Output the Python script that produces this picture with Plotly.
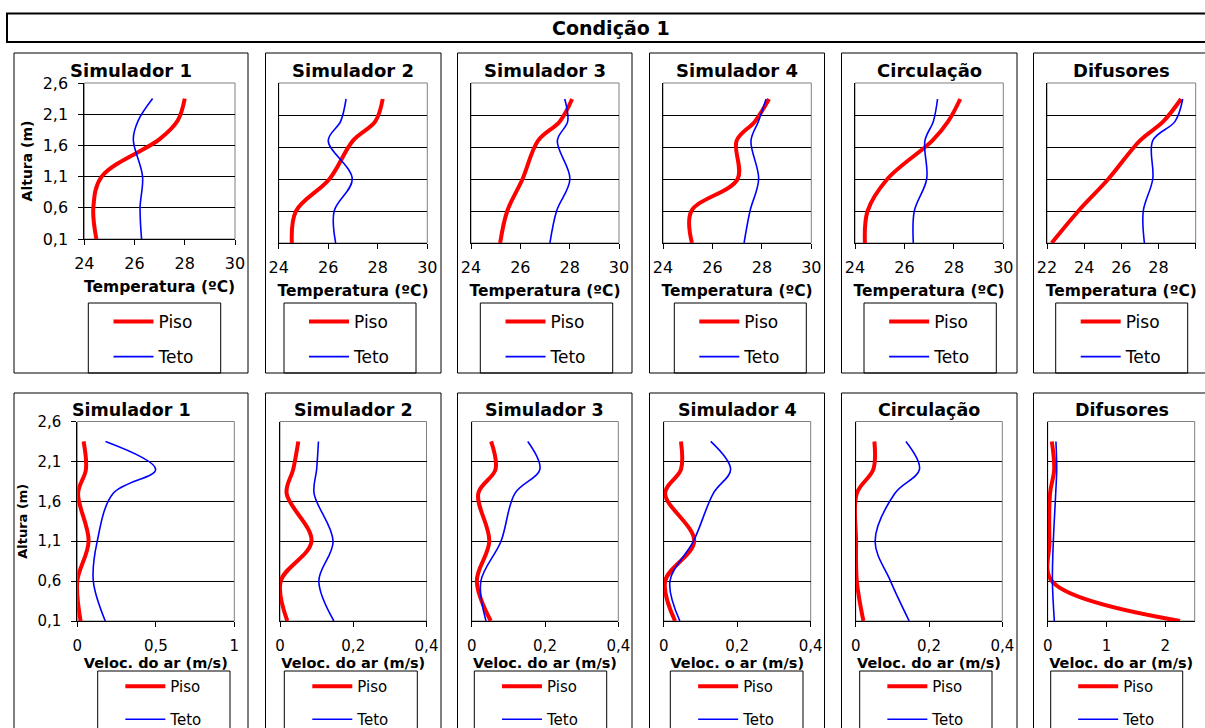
import plotly.graph_objects as go

W, H = 1205, 728

# ---------------- data ----------------
heights = [0.1, 0.6, 1.1, 1.7, 2.0, 2.35]
panel_titles = ["Simulador 1", "Simulador 2", "Simulador 3", "Simulador 4", "Circulação", "Difusores"]
series_names = ["Piso", "Teto"]
main_title = "Condição 1"

# Temperature (ºC)
temp_piso_sim1 = [24.48, 24.36, 24.69, 27.0, 27.72, 28.0]
temp_teto_sim1 = [26.28, 26.22, 26.32, 25.95, 26.15, 26.72]
temp_piso_sim2 = [24.53, 24.7, 26.05, 27.0, 27.9, 28.2]
temp_teto_sim2 = [26.3, 26.24, 26.97, 26.0, 26.5, 26.72]
temp_piso_sim3 = [25.18, 25.47, 26.09, 26.72, 27.6, 28.1]
temp_teto_sim3 = [27.2, 27.47, 28.01, 27.5, 27.92, 27.8]
temp_piso_sim4 = [25.17, 25.15, 27.02, 26.98, 27.72, 28.29]
temp_teto_sim4 = [27.28, 27.52, 27.87, 27.56, 27.86, 28.17]
temp_piso_circ = [24.4, 24.51, 25.31, 27.13, 27.77, 28.26]
temp_teto_circ = [26.36, 26.4, 26.9, 26.83, 27.17, 27.34]
temp_piso_dif = [22.25, 23.69, 25.3, 27.0, 28.26, 29.21]
temp_teto_dif = [27.24, 27.18, 27.69, 27.69, 28.89, 29.3]

# Air velocity (m/s)
vel_piso_sim1 = [0.021, 0.0, 0.072, 0.005, 0.055, 0.04]
vel_teto_sim1 = [0.178, 0.102, 0.127, 0.229, 0.499, 0.18]
vel_piso_sim2 = [0.02, 0.002, 0.086, 0.018, 0.036, 0.05]
vel_teto_sim2 = [0.147, 0.106, 0.145, 0.093, 0.1, 0.105]
vel_piso_sim3 = [0.052, 0.014, 0.048, 0.018, 0.065, 0.053]
vel_teto_sim3 = [0.039, 0.025, 0.08, 0.118, 0.186, 0.153]
vel_piso_sim4 = [0.031, 0.004, 0.083, 0.004, 0.047, 0.047]
vel_teto_sim4 = [0.044, 0.017, 0.081, 0.135, 0.182, 0.128]
vel_piso_circ = [0.021, 0.003, 0.001, 0.003, 0.048, 0.051]
vel_teto_circ = [0.146, 0.095, 0.053, 0.107, 0.174, 0.137]
vel_piso_dif = [2.25, 0.07, 0.03, 0.04, 0.11, 0.07]
vel_teto_dif = [0.113, 0.08, 0.096, 0.136, 0.153, 0.14]

y_tick_vals = [0.1, 0.6, 1.1, 1.6, 2.1, 2.6]
temp_x_ticks = [[24, 26, 28, 30]] * 5 + [[22, 24, 26, 28, 30]]
vel_x_ticks = [[0, 0.5, 1], [0, 0.2, 0.4], [0, 0.2, 0.4], [0, 0.2, 0.4], [0, 0.2, 0.4], [0, 1, 2]]
temp_axis_title = "Temperatura (ºC)"
vel_axis_titles = ["Veloc. do ar (m/s)"] * 3 + ["Veloc. o ar (m/s)"] + ["Veloc. do ar (m/s)"] * 2
y_axis_title = "Altura (m)"

temp_rows = [(temp_piso_sim1, temp_teto_sim1), (temp_piso_sim2, temp_teto_sim2),
             (temp_piso_sim3, temp_teto_sim3), (temp_piso_sim4, temp_teto_sim4),
             (temp_piso_circ, temp_teto_circ), (temp_piso_dif, temp_teto_dif)]
vel_rows = [(vel_piso_sim1, vel_teto_sim1), (vel_piso_sim2, vel_teto_sim2),
            (vel_piso_sim3, vel_teto_sim3), (vel_piso_sim4, vel_teto_sim4),
            (vel_piso_circ, vel_teto_circ), (vel_piso_dif, vel_teto_dif)]

# ---------------- geometry (pixels) ----------------
panel_x = [(14, 248), (265.5, 441), (457.5, 632), (649.5, 824.5), (841.5, 1017), (1033.5, 1215)]
row_panel_y = [(53, 373), (393, 745)]
plot_x = [
    [(84.3, 235), (278.7, 427.3), (471, 619), (663, 811.3), (855, 1003.3), (1047, 1195.7)],
    [(77.3, 234.3), (280, 426.5), (471.7, 618.3), (663.7, 810.7), (855.7, 1002.3), (1047.7, 1194.7)],
]
plot_y = [
    [(83, 239)] + [(83, 243)] * 5,
    [(421.5, 621)] * 6,
]
leg_x = [
    [(88.3, 220.7), (284, 416), (480.3, 612.7), (674.3, 806.3), (864, 996.3), (1055.7, 1187.7)],
    [(97.7, 230), (284.3, 417.3), (474.3, 606.7), (670.3, 803), (859.7, 992), (1050.7, 1182.7)],
]
leg_y = [(303, 373), (671, 745)]
leg_mid = [339.5, 703.0]
leg_font = [17, 15]
leg_gap = [10, 10.5]
title_y = [70, 410]
tick_standoff = [5, 6]
title_standoff = [8, 1.5]

FONT = "DejaVu Sans"
RED = "#FF0000"
BLUE = "#0000FF"


def fx(p):
    return p / W


def fy(p):
    return 1 - p / H


fig = go.Figure()
layout = dict(
    width=W, height=H, autosize=False,
    margin=dict(l=0, r=0, t=0, b=0, pad=0, autoexpand=False),
    paper_bgcolor="white", plot_bgcolor="white",
    template="none",
    separators=",.",
    font=dict(family=FONT, color="black", size=16),
    shapes=[], annotations=[],
)

# title box
layout["shapes"].append(dict(type="rect", xref="paper", yref="paper",
                             x0=fx(7), x1=fx(1215), y0=fy(42), y1=fy(13.5),
                             line=dict(color="black", width=2)))
layout["annotations"].append(dict(text=main_title, xref="paper", yref="paper",
                                  x=fx(611), y=fy(28), showarrow=False,
                                  xanchor="center", yanchor="middle",
                                  font=dict(family=FONT, size=19, weight="bold")))

for r in range(2):
    data_rows = temp_rows if r == 0 else vel_rows
    for i in range(6):
        k = r * 6 + i + 1
        xa = "x" if k == 1 else f"x{k}"
        ya = "y" if k == 1 else f"y{k}"
        leg = "legend" if k == 1 else f"legend{k}"
        piso, teto = data_rows[i]
        fig.add_trace(go.Scatter(
            x=piso, y=heights, mode="lines", name=series_names[0],
            line=dict(color=RED, width=4, shape="spline", smoothing=1.0),
            xaxis=xa, yaxis=ya, legend=leg, legendgroup=f"a{k}", showlegend=True,
            hoverinfo="skip"))
        fig.add_trace(go.Scatter(
            x=teto, y=heights, mode="lines", name=series_names[1],
            line=dict(color=BLUE, width=1.6, shape="spline", smoothing=1.0),
            xaxis=xa, yaxis=ya, legend=leg, legendgroup=f"b{k}", showlegend=True,
            hoverinfo="skip"))

        px0, px1 = plot_x[r][i]
        py0, py1 = plot_y[r][i]
        if r == 0:
            xticks = temp_x_ticks[i]
            xrange = [xticks[0], xticks[-1]]
            xtitle = temp_axis_title
            tfs, afs = 16, 15.5
        else:
            xticks = vel_x_ticks[i]
            xrange = [0, 2.5] if i == 5 else [xticks[0], xticks[-1]]
            xtitle = vel_axis_titles[i]
            tfs, afs = 15, 14.5

        layout["xaxis" if k == 1 else f"xaxis{k}"] = dict(
            domain=[fx(px0), fx(px1)], anchor=ya, range=xrange,
            tickvals=xticks, showgrid=False, zeroline=False,
            showline=True, linecolor="black", linewidth=1,
            ticks="outside", ticklen=5, tickcolor="black", tickwidth=1,
            tickfont=dict(family=FONT, size=tfs), ticklabelstandoff=tick_standoff[r],
            title=dict(text=xtitle, standoff=title_standoff[r],
                       font=dict(family=FONT, size=afs, weight="bold")),
            fixedrange=True,
        )
        first = (i == 0)
        layout["yaxis" if k == 1 else f"yaxis{k}"] = dict(
            domain=[fy(py1), fy(py0)], anchor=xa, range=[0.1, 2.6],
            tickvals=y_tick_vals, showgrid=True, gridcolor="black", gridwidth=1,
            zeroline=False, showline=True, linecolor="black", linewidth=1,
            ticks="outside" if first else "", ticklen=5, tickcolor="black",
            showticklabels=first,
            tickfont=dict(family=FONT, size=tfs), ticklabelstandoff=7,
            title=dict(text=y_axis_title if first else "", standoff=6,
                       font=dict(family=FONT, size=14 if r == 0 else 13, weight="bold")),
            fixedrange=True,
        )
        # plot area frame (grey)
        layout["shapes"].append(dict(type="rect", xref=f"{xa} domain", yref=f"{ya} domain",
                                     x0=0, x1=1, y0=0, y1=1, layer="below",
                                     line=dict(color="#808080", width=1)))
        # panel border
        bx0, bx1 = panel_x[i]
        by0, by1 = row_panel_y[r]
        layout["shapes"].append(dict(type="rect", xref="paper", yref="paper",
                                     x0=fx(bx0), x1=fx(bx1), y0=fy(by1), y1=fy(by0),
                                     line=dict(color="black", width=1)))
        # legend box
        lx0, lx1 = leg_x[r][i]
        ly0, ly1 = leg_y[r]
        layout["shapes"].append(dict(type="rect", xref="paper", yref="paper",
                                     x0=fx(lx0), x1=fx(lx1), y0=fy(ly1), y1=fy(ly0),
                                     line=dict(color="black", width=1)))
        layout[leg] = dict(
            x=fx((lx0 + lx1) / 2), y=fy(leg_mid[r]), xanchor="center", yanchor="middle",
            xref="paper", yref="paper",
            bgcolor="rgba(0,0,0,0)", borderwidth=0,
            font=dict(family=FONT, size=leg_font[r]),
            itemwidth=40, traceorder="grouped",
            tracegroupgap=leg_gap[r],
            itemclick=False, itemdoubleclick=False,
        )
        # panel title
        layout["annotations"].append(dict(
            text=panel_titles[i], xref="paper", yref="paper",
            x=fx((bx0 + bx1) / 2 if i < 5 else (bx0 + 1210) / 2), y=fy(title_y[r]),
            showarrow=False, xanchor="center", yanchor="middle",
            font=dict(family=FONT, size=18 if r == 0 else 17.5, weight="bold")))

fig.update_layout(**layout)
fig.write_html(
    "out.html",
    config={"displayModeBar": False},
    post_script="document.body.style.margin='0';document.body.style.padding='0';",
)
